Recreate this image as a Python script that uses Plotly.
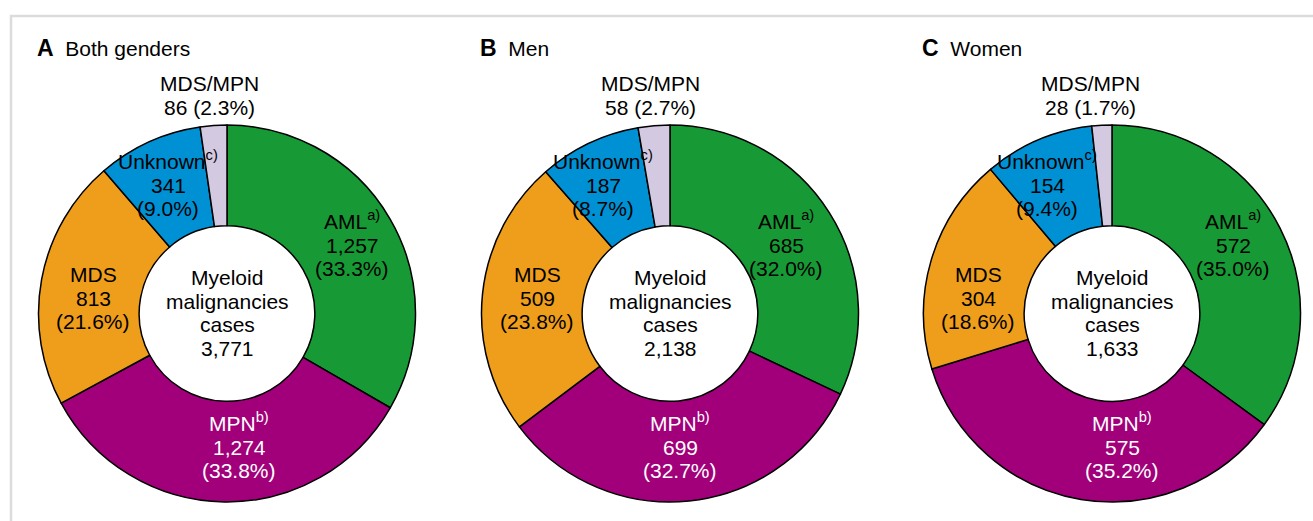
import plotly.graph_objects as go

# ---- data ----
categories = ["AML", "MPN", "MDS", "Unknown", "MDS/MPN"]
footnotes = ["a)", "b)", "", "c)", ""]
both_genders = [1257, 1274, 813, 341, 86]
men = [685, 699, 509, 187, 58]
women = [572, 575, 304, 154, 28]

panel_letters = ["A", "B", "C"]
panel_titles = ["Both genders", "Men", "Women"]
panel_values = [both_genders, men, women]
center_caption = ["Myeloid", "malignancies", "cases"]

# ---- styling / layout ----
W, H = 1313, 521
FONT = "Liberation Sans, Arial, Helvetica, sans-serif"
FS = 21
LINE = 23.4
slice_colors = ["#179a36", "#a1007a", "#ee9e1b", "#0091d5", "#d3c9e1"]
text_colors = ["black", "white", "black", "black", "black"]

pie_cx = [227, 670, 1112]
pie_cy = 313.5
pie_r = 188.5
hole = 0.466

# horizontal offset of each category label from its pie centre, per panel
label_dx = [
    [125, 12, -134, -59, -18],
    [116, 10, -133, -67, -20],
    [121, 10, -134, -65, -22],
]
# baseline of the first line of each category label
label_base = [229, 431, 282, 169, 91]

fig = go.Figure()

# invisible pixel-space axes used to place text and the frame
fig.add_trace(go.Scatter(x=[0, W], y=[0, H], mode="markers",
                         marker=dict(opacity=0), hoverinfo="skip", showlegend=False))

annotations = []


def add_text(x, baseline, text, color="black", size=FS):
    # yanchor bottom sits on baseline + descent
    annotations.append(dict(
        x=x, y=baseline + 0.212 * size, xref="x", yref="y",
        text=text, showarrow=False, xanchor="center", yanchor="bottom",
        font=dict(family=FONT, size=size, color=color),
        borderpad=0, borderwidth=0,
    ))


for p, vals in enumerate(panel_values):
    cx = pie_cx[p]
    total = sum(vals)
    fig.add_trace(go.Pie(
        values=vals, labels=categories, sort=False, direction="clockwise",
        rotation=0, hole=hole, textinfo="none", hoverinfo="skip",
        showlegend=False,
        marker=dict(colors=slice_colors, line=dict(color="black", width=1.5)),
        domain=dict(
            x=[(cx - pie_r) / W, (cx + pie_r) / W],
            y=[1 - (pie_cy + pie_r) / H, 1 - (pie_cy - pie_r) / H],
        ),
    ))

    # panel heading
    annotations.append(dict(
        x=cx - 190, y=57 + 0.212 * 21, xref="x", yref="y",
        text=(f"<span style='font-size:23px'><b>{panel_letters[p]}</b></span>"
              f"\u00a0\u00a0{panel_titles[p]}"),
        showarrow=False, xanchor="left", yanchor="bottom",
        font=dict(family=FONT, size=21, color="black"),
        borderpad=0, borderwidth=0,
    ))

    # slice labels
    for i, cat in enumerate(categories):
        v = vals[i]
        pct = f"({100 * v / total:.1f}%)"
        count = f"{v:,}"
        head = cat + (f"<sup>{footnotes[i]}</sup>" if footnotes[i] else "")
        if cat == "MDS/MPN":
            lines = [head, f"{count} {pct}"]
        else:
            lines = [head, count, pct]
        x = cx + label_dx[p][i]
        for k, ln in enumerate(lines):
            add_text(x, label_base[i] + k * LINE, ln, text_colors[i])

    # centre caption with total
    centre_lines = center_caption + [f"{total:,}"]
    for k, ln in enumerate(centre_lines):
        add_text(cx, 285 + k * LINE, ln)

fig.update_layout(
    width=W, height=H,
    margin=dict(l=0, r=0, t=0, b=0),
    paper_bgcolor="white", plot_bgcolor="white",
    xaxis=dict(range=[0, W], visible=False, fixedrange=True, domain=[0, 1]),
    yaxis=dict(range=[H, 0], visible=False, fixedrange=True, domain=[0, 1]),
    annotations=annotations,
    shapes=[dict(type="rect", xref="x", yref="y", x0=11, y0=16, x1=W + 20, y1=H + 20,
                 line=dict(color="#dcdcdc", width=2.5), layer="below")],
)

fig.write_html("out.html", include_plotlyjs=True, config={"displayModeBar": False})
